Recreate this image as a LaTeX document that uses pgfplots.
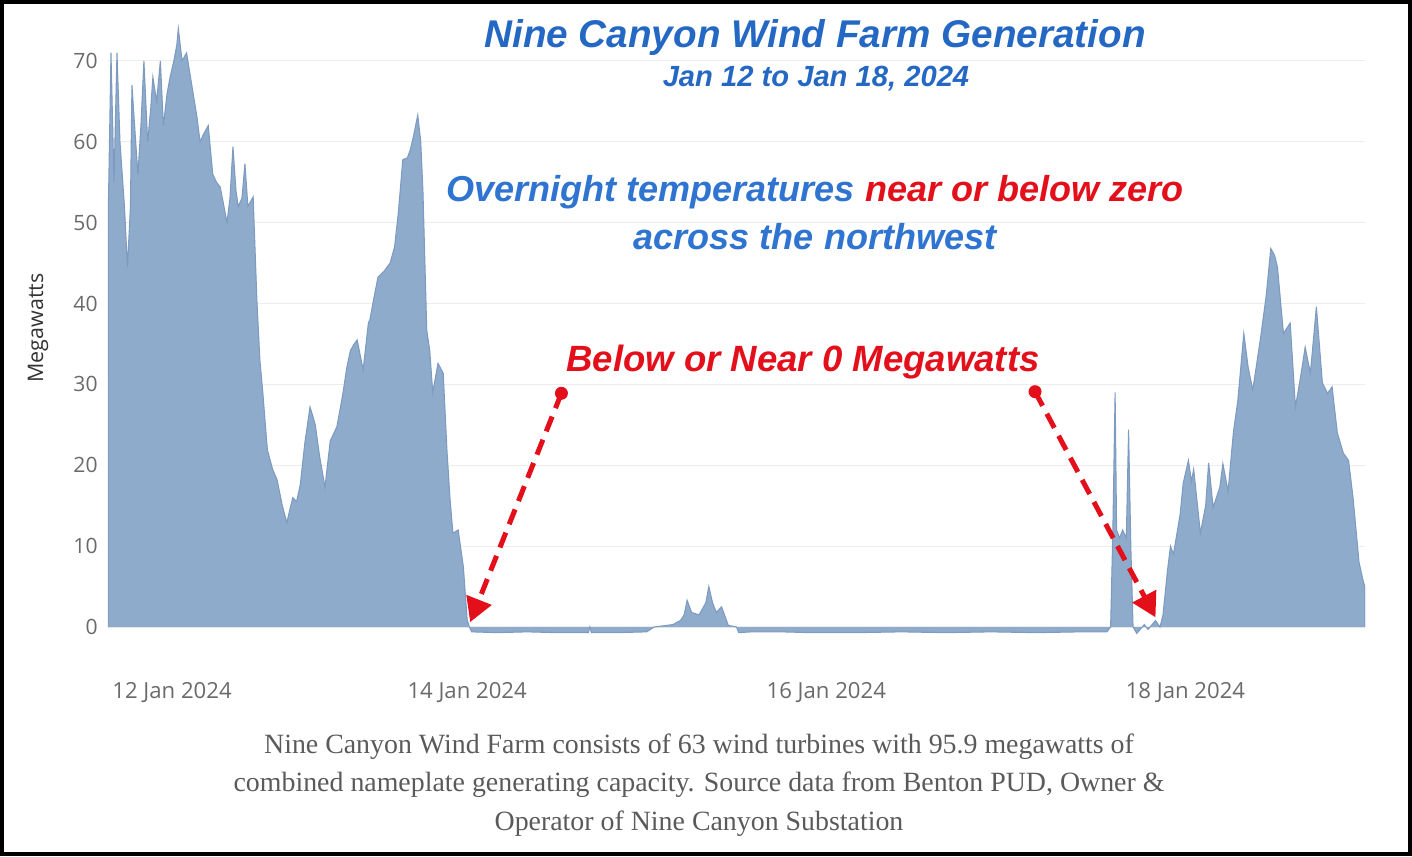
\documentclass[border=0pt]{standalone}
\usepackage{fontspec}
\setmainfont{Liberation Sans}
\newfontfamily\capfont{Liberation Serif}
\newfontfamily\tickfont{Open Sans}
\usepackage{pgfplots}
\pgfplotsset{compat=1.18}
\usetikzlibrary{arrows.meta}

\definecolor{areafill}{HTML}{8FABCB}
\definecolor{areaedge}{HTML}{7D9BC1}
\definecolor{titleblue}{HTML}{2468C4}
\definecolor{subblue}{HTML}{2F74D0}
\definecolor{annred}{HTML}{E3101B}
\definecolor{tickgray}{HTML}{6A6A6A}
\definecolor{capgray}{HTML}{5A5A5A}

\begin{document}
\begin{tikzpicture}
\useasboundingbox (-1.08,-2.21) rectangle (13.04,6.351);
\begin{axis}[
  at={(0,0)}, anchor=south west,
  width=12.57cm, height=6.146cm, scale only axis,
  xmin=0, xmax=168, ymin=-1, ymax=75,
  axis line style={draw=none},
  major tick length=0pt,
  ytick={0,10,20,30,40,50,60,70},
  xtick={8.56,48,96,144},
  xticklabels={12 Jan 2024,14 Jan 2024,16 Jan 2024,18 Jan 2024},
  ymajorgrids, grid style={color=black!7, line width=0.3pt},
  /pgf/number format/assume math mode=true,
  tick label style={font=\tickfont\fontsize{6.3}{7}\selectfont, text=tickgray},
  yticklabel style={font=\tickfont\fontsize{6}{7}\selectfont, xshift=0.2mm},
  xticklabel style={yshift=-3.5mm},
]
\addplot[fill=areafill, draw=areaedge, line width=0.3pt] coordinates {
(0,0)(0.05,52)(0.4,71)(0.8,55)(1.2,71)(1.6,60)(2.2,52)(2.6,44.5)(3.0,52)(3.2,67)(3.7,60)(4.0,56)(4.4,62)(4.8,70)(5.3,60)(5.7,64)(6.0,68)(6.5,65)(7.0,70)(7.4,62)(7.9,66)(8.3,68)(8.8,70)(9.2,72)(9.4,74)(9.9,70)(10.5,71)(11.2,67)(11.9,63)(12.3,60)(12.8,61)(13.4,62)(14.0,56)(14.5,55)(15.0,54.4)(15.5,52)(15.9,50)(16.3,53)(16.7,59.4)(17.1,54)(17.4,52)(17.9,53)(18.3,57.3)(18.7,52)(19.4,53.2)(19.9,40.4)(20.3,33)(20.7,28.9)(21.3,21.9)(22.0,19.5)(22.6,18.2)(23.3,15)(23.9,12.9)(24.3,14.5)(24.7,16)(25.2,15.5)(25.7,17.6)(26.3,22.7)(27.0,27.2)(27.4,26)(27.7,25)(28.3,21)(29.0,17.3)(29.7,23)(30.2,24)(30.6,24.8)(31.4,28.9)(31.9,32)(32.4,34.2)(32.9,35)(33.3,35.5)(34.1,31.8)(34.8,37.6)(35.0,38)(35.6,41)(36.1,43.3)(36.9,44)(37.7,45)(38.3,47)(38.8,51.2)(39.4,57.8)(40.0,58)(40.4,59)(40.9,61)(41.4,63.3)(41.8,60)(42.1,53.7)(42.6,36.7)(43.0,34.2)(43.4,29)(44.1,32.6)(44.8,31.4)(45.3,21.9)(45.7,16)(46.1,11.6)(46.8,12)(47.5,7.4)(48.0,0.9)(48.3,0)(48.6,-0.6)(52,-0.7)(56,-0.6)(60,-0.7)(64.2,-0.7)(64.4,0)(64.6,-0.7)(68,-0.7)(72,-0.6)(73,0)(75.5,0.3)(76.5,0.8)(77.0,1.5)(77.4,3.3)(78.0,1.8)(79.0,1.5)(79.9,3)(80.3,5)(80.8,3)(81.3,1.8)(82.0,2.5)(82.4,1.5)(82.9,0.2)(84.0,0)(84.3,-0.7)(86,-0.6)(90,-0.6)(94,-0.7)(100,-0.7)(106,-0.6)(112,-0.7)(118,-0.6)(124,-0.7)(130,-0.6)(133.5,-0.6)(134,0)(134.3,12)(134.6,29)(134.8,12)(135.2,11)(135.6,12)(136.1,11)(136.4,24.4)(136.7,10)(137.0,0)(137.5,-0.8)(138.5,0.3)(139,-0.3)(140,0.8)(140.6,0)(141.0,1.5)(141.6,7)(142.0,10)(142.4,9)(143.3,14)(143.7,17.8)(144.4,20.6)(144.8,18)(145.1,19.5)(146.0,11.6)(146.7,15)(147.1,20.3)(147.7,14.8)(148.6,17.3)(149.0,20.2)(149.7,16.8)(150.4,24)(151.0,28)(151.8,36.3)(152.4,32)(153.0,29.3)(154.0,35.5)(154.8,41)(155.4,46.8)(155.9,46)(156.3,44.5)(157.1,36.3)(158.0,37.6)(158.7,27.2)(159.4,31)(160.0,34.6)(160.7,31.4)(161.5,39.6)(162.3,30.2)(163.0,28.9)(163.6,29.7)(164.3,24)(165.1,21.5)(165.8,20.6)(166.4,16)(167.2,8)(167.8,5.5)(168,5)(168,0)
};
\draw[annred, line width=0.5mm, dash pattern=on 1.6mm off 0.9mm, -{Triangle[length=2.4mm,width=2.6mm]}] (axis cs:60.6,28.9) -- (axis cs:48.4,0.6);
\fill[annred] (axis cs:60.6,28.9) circle (0.65mm);
\draw[annred, line width=0.5mm, dash pattern=on 1.6mm off 0.9mm, -{Triangle[length=2.4mm,width=2.6mm]}] (axis cs:123.9,29.1) -- (axis cs:140.0,1.2);
\fill[annred] (axis cs:123.9,29.1) circle (0.65mm);
\end{axis}
\node[rotate=90, font=\tickfont\fontsize{6.1}{7}\selectfont, text=black!80] at (-0.70,3.07) {Megawatts};
\node[font=\bfseries\itshape\fontsize{11}{12}\selectfont, text=titleblue] at (7.07,5.98) {Nine Canyon Wind Farm Generation};
\node[font=\bfseries\itshape\fontsize{8.3}{9}\selectfont, text=titleblue] at (7.08,5.57) {Jan 12 to Jan 18, 2024};
\node[font=\bfseries\itshape\fontsize{10.26}{11}\selectfont, text=subblue] at (7.07,4.43) {Overnight temperatures \textcolor{annred}{near or below zero}};
\node[font=\bfseries\itshape\fontsize{10.26}{11}\selectfont, text=subblue] at (7.07,3.98) {across the northwest};
\node[font=\bfseries\itshape\fontsize{10.4}{11}\selectfont, text=annred] at (6.95,2.73) {Below or Near 0 Megawatts};
\node[font=\capfont\fontsize{7.93}{10.85}\selectfont, text=capgray, align=center] at (5.91,-1.50) {Nine Canyon Wind Farm consists of 63 wind turbines with 95.9 megawatts of\\combined nameplate generating capacity. Source data from Benton PUD, Owner \&\\Operator of Nine Canyon Substation};
\draw[line width=0.45mm] (-1.06,-2.19) rectangle (13.02,6.331);
\end{tikzpicture}
\end{document}
